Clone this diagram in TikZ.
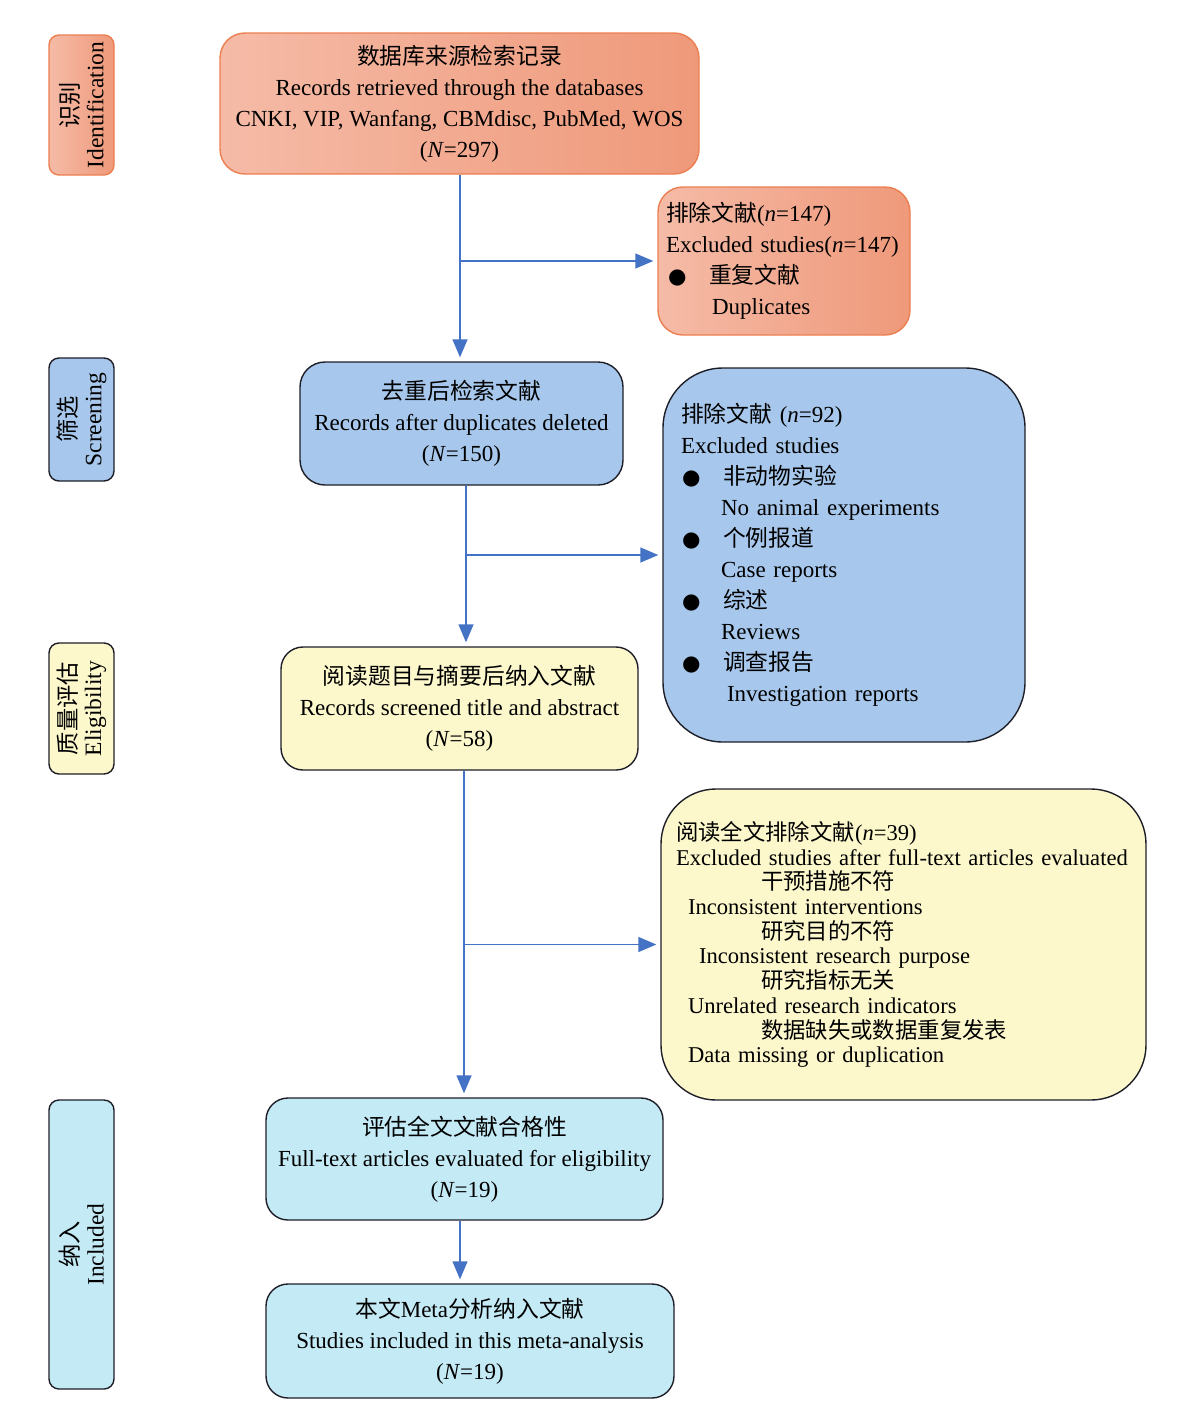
\documentclass[tikz,border=0pt]{standalone}
\usepackage{fontspec}
\setmainfont{Liberation Serif}
\newfontfamily\cjk[Scale=0.99]{Noto Sans CJK SC}
\newfontfamily\dejavu[Scale=0.92]{DejaVu Sans}
\usetikzlibrary{arrows.meta}
\newcommand\zh[1]{{\cjk #1}}
\newcommand\bul{{\dejavu ●}}
\definecolor{orL}{HTML}{F5BBA7}
\definecolor{orR}{HTML}{EF997A}
\definecolor{orB}{HTML}{EC7E50}
\definecolor{blF}{HTML}{A7C8EC}
\definecolor{yeF}{HTML}{FCF8CC}
\definecolor{cyF}{HTML}{C4EAF5}
\definecolor{dkB}{HTML}{1E1E28}
\definecolor{arB}{HTML}{4472C4}
\tikzset{
  mainf/.style={font=\fontsize{23pt}{31pt}\selectfont},
  boxbase/.style={mainf, inner sep=0pt, line width=1.4pt, align=center, rounded corners=22pt},
  orbox/.style={boxbase, left color=orL, right color=orR, draw=orB},
  blbox/.style={boxbase, fill=blF, draw=dkB},
  yebox/.style={boxbase, fill=yeF, draw=dkB},
  cybox/.style={boxbase, fill=cyF, draw=dkB},
  sidebox/.style={font=\fontsize{23.5pt}{25pt}\selectfont, inner sep=0pt, line width=1.4pt, align=center, rounded corners=10pt, rotate=90, minimum height=65pt},
  arr/.style={draw=arB, line width=1.4pt, -{Triangle[length=18pt,width=15pt]}, shorten >=4pt},
}
\begin{document}
\begin{tikzpicture}[x=1pt,y=-1pt]
\useasboundingbox (0,0) rectangle (1176,1427);

% side labels
\node[sidebox, left color=orL, right color=orR, draw=orB, minimum width=140pt] (s1) at (81.5,105) {\zh{识别}\\Identification};
\node[sidebox, fill=blF, draw=dkB, minimum width=123pt] (s2) at (81.5,419.5) {\zh{筛选}\\Screening};
\node[sidebox, fill=yeF, draw=dkB, minimum width=131pt] (s3) at (81.5,708.5) {\zh{质量评估}\\Eligibility};
\node[sidebox, fill=cyF, draw=dkB, minimum width=289pt] (s4) at (81.5,1244.5) {\zh{纳入}\\Included};

% main boxes
\node[orbox, rounded corners=25pt, minimum width=479pt, minimum height=141pt] (b1) at (459.5,103.5)
  {\zh{数据库来源检索记录}\\Records retrieved through the databases\\CNKI, VIP, Wanfang, CBMdisc, PubMed, WOS\\(\textit{N}=297)};

\node[orbox, rounded corners=25pt, minimum width=252pt, minimum height=148pt, align=left, text width=236pt, inner xsep=8pt] (b2) at (784,261)
  {\zh{排除文献}(\textit{n}=147)\\\mbox{Excluded studies(\textit{n}=147)}\\\hspace*{2pt}\makebox[41pt][l]{\bul}\zh{重复文献}\\\hspace*{46pt}Duplicates};

\node[blbox, rounded corners=25pt, minimum width=323pt, minimum height=123pt] (b3) at (461.5,423.5)
  {\zh{去重后检索文献}\\Records after duplicates deleted\\(\textit{N}=150)};

\node[blbox, rounded corners=60pt, minimum width=362pt, minimum height=374pt, align=left, text width=326pt, inner xsep=18pt] (b4) at (844,555)
  {\zh{排除文献} (\textit{n}=92)\\Excluded studies\\
   \hspace*{1pt}\makebox[41pt][l]{\bul}\zh{非动物实验}\\\hspace*{40pt}No animal experiments\\
   \hspace*{1pt}\makebox[41pt][l]{\bul}\zh{个例报道}\\\hspace*{40pt}Case reports\\
   \hspace*{1pt}\makebox[41pt][l]{\bul}\zh{综述}\\\hspace*{40pt}Reviews\\
   \hspace*{1pt}\makebox[41pt][l]{\bul}\zh{调查报告}\\\hspace*{46pt}Investigation reports};

\node[yebox, minimum width=357pt, minimum height=123pt] (b5) at (459.5,708.5)
  {\zh{阅读题目与摘要后纳入文献}\\Records screened title and abstract\\(\textit{N}=58)};

\node[yebox, rounded corners=55pt, minimum width=485pt, minimum height=311pt, align=left, text width=455pt, inner xsep=15pt, font=\fontsize{22.6pt}{24.7pt}\selectfont] (b6) at (903.5,944.5)
  {\zh{阅读全文排除文献}(\textit{n}=39)\\\mbox{Excluded studies after full-text articles evaluated}\\
   \hspace*{85pt}\zh{干预措施不符}\\\hspace*{12pt}Inconsistent interventions\\
   \hspace*{85pt}\zh{研究目的不符}\\\hspace*{23pt}Inconsistent research purpose\\
   \hspace*{85pt}\zh{研究指标无关}\\\hspace*{12pt}Unrelated research indicators\\
   \hspace*{85pt}\zh{数据缺失或数据重复发表}\\\hspace*{12pt}Data missing or duplication};

\node[cybox, minimum width=397pt, minimum height=122pt] (b7) at (464.5,1159)
  {\zh{评估全文文献合格性}\\Full-text articles evaluated for eligibility\\(\textit{N}=19)};

\node[cybox, minimum width=408pt, minimum height=114pt] (b8) at (470,1341)
  {\zh{本文}Meta\zh{分析纳入文献}\\Studies included in this meta-analysis\\(\textit{N}=19)};

% connectors
\coordinate (t1) at ([xshift=0.5pt]b1.south);
\draw[arr] (t1) -- (t1 |- b3.north);
\draw[arr] (t1 |- b2.west) -- (b2.west);

\coordinate (t2) at ([xshift=4.5pt]b3.south);
\draw[arr] (t2) -- (t2 |- b5.north);
\draw[arr] (t2 |- b4.west) -- (b4.west);

\coordinate (t3) at ([xshift=4.5pt]b5.south);
\draw[arr] (t3) -- (t3 |- b7.north);
\draw[arr] (t3 |- b6.west) -- (b6.west);

\coordinate (t4) at ([xshift=-4.5pt]b7.south);
\draw[arr] (t4) -- (t4 |- b8.north);
\end{tikzpicture}
\end{document}
